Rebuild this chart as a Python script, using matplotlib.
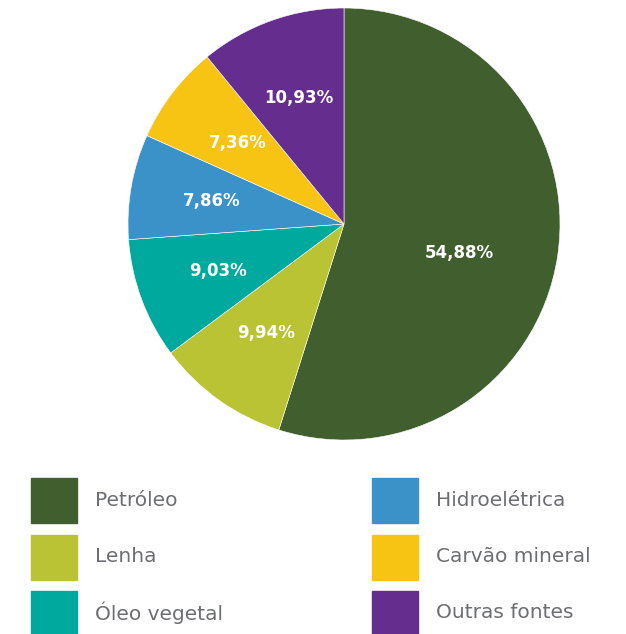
import matplotlib.pyplot as plt
from matplotlib.patches import Rectangle

# Data
fontes = ["Petróleo", "Lenha", "Óleo vegetal", "Hidroelétrica", "Carvão mineral", "Outras fontes"]
valores = [54.88, 9.94, 9.03, 7.86, 7.36, 10.93]
cores = ["#415e2f", "#bac333", "#00a99e", "#3a92c8", "#f7c413", "#652d8e"]

plt.rcParams['font.family'] = ['DejaVu Sans']

W, H = 626, 634
fig = plt.figure(figsize=(W / 100, H / 100), dpi=100)

# pie centred at (344, 224) px, radius 216 px
cx, cy, r = 344, 224, 216
ax = fig.add_axes([(cx - r) / W, 1 - (cy + r) / H, 2 * r / W, 2 * r / H])
wedges, texts, autotexts = ax.pie(
    valores, colors=cores, startangle=90, counterclock=False,
    autopct=lambda p: f"{p:.2f}%".replace(".", ","), pctdistance=0.62,
    wedgeprops=dict(edgecolor="white", linewidth=0.4),
    textprops=dict(color="white", fontsize=12, fontweight="bold"))
# biggest slice label sits a bit closer to the centre
x, y = autotexts[0].get_position()
autotexts[0].set_position((x * 0.55 / 0.62 - 0.01, y * 0.55 / 0.62 - 0.05))
ax.set_xlim(-1, 1)
ax.set_ylim(-1, 1)
ax.set_aspect("equal")
ax.axis("off")

# legend drawn by hand in pixel positions
leg = fig.add_axes([0, 0, 1, 1])
leg.set_xlim(0, W)
leg.set_ylim(H, 0)
leg.axis("off")
col_x = [31, 372]
row_y = [500, 557, 613]
for i, (nome, cor) in enumerate(zip(fontes, cores)):
    c, rr = divmod(i, 3)
    x0 = col_x[c]
    y0 = row_y[rr]
    leg.add_patch(Rectangle((x0, y0 - 22.5), 46, 45, color=cor, clip_on=False))
    leg.text(x0 + 64, y0, nome, fontsize=14.5, color="#6d6e71", va="center", ha="left")

fig.savefig("out.png", dpi=100)
